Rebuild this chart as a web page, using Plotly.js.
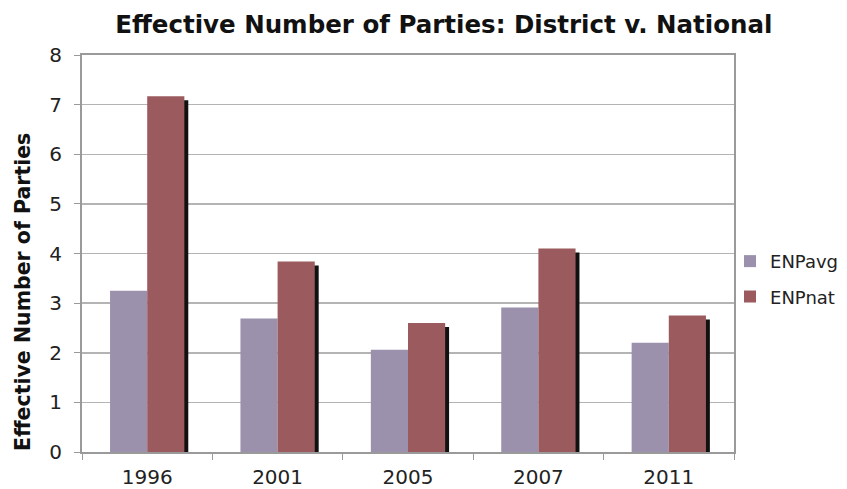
<!DOCTYPE html>
<html>
<head>
<meta charset="utf-8">
<script src="https://cdn.plot.ly/plotly-3.0.1.min.js"></script>
<style>html,body{margin:0;padding:0;background:#fff;}#chart{width:847px;height:489px;}</style>
</head>
<body>
<div id="chart"></div>
<script>
const years = ["1996", "2001", "2005", "2007", "2011"];
const enpAvg = [3.25, 2.69, 2.06, 2.91, 2.2];
const enpNat = [7.17, 3.84, 2.6, 4.1, 2.75];
const yTicks = [0, 1, 2, 3, 4, 5, 6, 7, 8];

const font = "DejaVu Sans, Verdana, sans-serif";
const barW = 0.285;

const traces = [
  {
    type: "bar", x: years, y: enpNat, base: -0.08,
    offset: 0.03, width: barW,
    marker: {color: "#111111", line: {width: 0}},
    showlegend: false, hoverinfo: "skip"
  },
  {
    type: "bar", name: "ENPavg", x: years, y: enpAvg,
    offset: -barW, width: barW, legendgroup: "a",
    marker: {color: "#9b91ad", line: {width: 0}}
  },
  {
    type: "bar", name: "ENPnat", x: years, y: enpNat,
    offset: 0, width: barW, legendgroup: "b",
    marker: {color: "#9b5a5e", line: {width: 0}}
  }
];

const layout = {
  width: 847, height: 489,
  margin: {l: 82, r: 113, t: 55, b: 37, pad: 0, autoexpand: false},
  paper_bgcolor: "#ffffff", plot_bgcolor: "#ffffff",
  barmode: "overlay",
  font: {family: font, color: "#222222", size: 16},
  title: {
    text: "<b>Effective Number of Parties: District v. National</b>",
    font: {family: font, size: 24.5, color: "#111111"},
    x: 0.524, xref: "container", xanchor: "center",
    y: 0.951, yref: "container", yanchor: "middle"
  },
  xaxis: {
    type: "category",
    tickson: "boundaries",
    ticks: "outside", ticklen: 6, tickcolor: "#9a9a9a",
    showline: true, linecolor: "#9a9a9a", linewidth: 2, mirror: true,
    showgrid: false,
    tickfont: {family: font, size: 20, color: "#222222"},
    ticklabelstandoff: 6
  },
  yaxis: {
    range: [0, 8],
    tickvals: yTicks,
    ticktext: yTicks.map(String),
    ticks: "outside", ticklen: 6, tickcolor: "#9a9a9a",
    showline: true, linecolor: "#9a9a9a", linewidth: 2, mirror: true,
    showgrid: true, gridcolor: "#b4b4b4", gridwidth: 1.5,
    zeroline: false,
    tickfont: {family: font, size: 20, color: "#222222"},
    ticklabelstandoff: 8
  },
  legend: {
    x: 0.9939, xref: "paper", xanchor: "left",
    y: 0.436, yanchor: "middle",
    font: {family: font, size: 18, color: "#222222"},
    traceorder: "grouped", tracegroupgap: 9, itemwidth: 30,
    bgcolor: "rgba(0,0,0,0)"
  },
  annotations: [{
    text: "<b>Effective Number of Parties</b>",
    xref: "paper", yref: "paper",
    x: -0.0905, y: 0.403, xanchor: "center", yanchor: "middle",
    textangle: -90, showarrow: false,
    font: {family: font, size: 20.5, color: "#111111"}
  }]
};

Plotly.newPlot("chart", traces, layout, {displayModeBar: false, staticPlot: true});
</script>
</body>
</html>
